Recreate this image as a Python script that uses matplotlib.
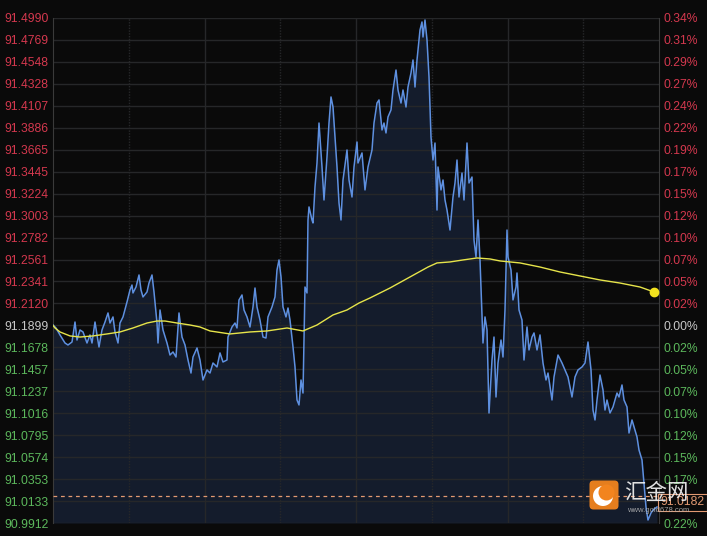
import matplotlib
matplotlib.use("Agg")
import matplotlib.pyplot as plt
from matplotlib.patches import FancyBboxPatch, Circle
import numpy as np

# price ticks (time offset, price)
t = [0, 3, 7, 12, 15, 19, 22, 24, 27, 30, 34, 37, 39, 42, 44, 46, 49, 52, 55, 57,
     60, 62, 65, 67, 70, 74, 77, 79, 80, 83, 86, 88, 90, 94, 96, 99, 101, 104, 105, 107,
     110, 114, 117, 120, 123, 126, 129, 132, 135, 138, 140, 144, 147, 150, 154, 157, 160, 164, 167, 170,
     174, 175, 179, 182, 184, 186, 189, 191, 194, 197, 200, 202, 204, 207, 210, 213, 215, 219, 222, 224,
     226, 228, 230, 233, 235, 237, 240, 242, 244, 246, 248, 250, 252, 254, 255, 256, 259, 260, 262, 264,
     266, 269, 271, 274, 276, 278, 280, 282, 284, 286, 288, 290, 294, 296, 299, 301, 304, 305, 309, 312,
     315, 319, 321, 324, 326, 329, 331, 333, 335, 338, 340, 343, 345, 348, 350, 353, 355, 358, 360, 362,
     364, 367, 369, 370, 372, 374, 376, 378, 380, 382, 384, 385, 388, 390, 392, 394, 397, 400, 402, 404,
     406, 409, 411, 414, 416, 419, 421, 423, 425, 427, 430, 432, 434, 436, 439, 441, 443, 445, 448, 450,
     452, 454, 455, 458, 460, 463, 464, 466, 469, 471, 474, 476, 479, 481, 484, 487, 490, 493, 495, 499,
     501, 505, 509, 512, 515, 519, 522, 525, 529, 532, 535, 538, 540, 542, 544, 547, 550, 552, 554, 557,
     560, 564, 566, 569, 571, 574, 576, 579, 581, 584, 586, 589, 591, 593, 595, 598, 600, 604]
price = [91.1903, 91.1873, 91.1803, 91.1722, 91.1702, 91.1732, 91.1933, 91.1752, 91.1853, 91.1833,
         91.1722, 91.1803, 91.1722, 91.1933, 91.1803, 91.1682, 91.1853, 91.1933, 91.2024, 91.1923,
         91.1984, 91.1833, 91.1722, 91.1923, 91.1984, 91.2134, 91.2255, 91.2305, 91.2225, 91.2285,
         91.2406, 91.2255, 91.2185, 91.2235, 91.2325, 91.2406, 91.2235, 91.1923, 91.1722, 91.2054,
         91.1853, 91.1722, 91.1601, 91.1632, 91.1581, 91.2024, 91.1782, 91.1702, 91.1551, 91.1420,
         91.1581, 91.1672, 91.1551, 91.1350, 91.1451, 91.1420, 91.1521, 91.1481, 91.1622, 91.1531,
         91.1551, 91.1782, 91.1883, 91.1923, 91.1873, 91.2155, 91.2205, 91.2054, 91.1984, 91.1883,
         91.2084, 91.2275, 91.2084, 91.1953, 91.1782, 91.1772, 91.1984, 91.2084, 91.2185, 91.2456,
         91.2557, 91.2386, 91.2084, 91.1984, 91.2074, 91.1953, 91.1682, 91.1481, 91.1149, 91.1099,
         91.1350, 91.1219, 91.2285, 91.2225, 91.2959, 91.3090, 91.2959, 91.2929, 91.3291, 91.3532,
         91.3934, 91.3492, 91.3160, 91.3592, 91.3934, 91.4196, 91.4095, 91.3793, 91.3492, 91.3130,
         91.2959, 91.3361, 91.3663, 91.3361, 91.3190, 91.3492, 91.3743, 91.3532, 91.3633, 91.3261,
         91.3492, 91.3663, 91.3934, 91.4135, 91.4166, 91.3864, 91.3934, 91.3834, 91.3995, 91.4065,
         91.4266, 91.4467, 91.4266, 91.4135, 91.4266, 91.4095, 91.4296, 91.4437, 91.4568, 91.4296,
         91.4568, 91.4869, 91.4950, 91.4799, 91.4970, 91.4769, 91.4397, 91.3793, 91.3562, 91.3733,
         91.3059, 91.3492, 91.3261, 91.3361, 91.3160, 91.3059, 91.2858, 91.3190, 91.3331, 91.3562,
         91.3190, 91.3431, 91.3160, 91.3733, 91.3331, 91.3391, 91.2758, 91.2587, 91.2959, 91.2557,
         91.1722, 91.1984, 91.1853, 91.1018, 91.1551, 91.1782, 91.1179, 91.1521, 91.1752, 91.1581,
         91.2054, 91.2858, 91.2587, 91.2456, 91.2155, 91.2285, 91.2426, 91.2054, 91.1953, 91.1551,
         91.1883, 91.1652, 91.1782, 91.1823, 91.1652, 91.1803, 91.1521, 91.1350, 91.1420, 91.1149,
         91.1380, 91.1601, 91.1521, 91.1451, 91.1380, 91.1179, 91.1380, 91.1451, 91.1481, 91.1521,
         91.1732, 91.1451, 91.1048, 91.0948, 91.1149, 91.1400, 91.1250, 91.1048, 91.1149, 91.1018,
         91.1079, 91.1219, 91.1179, 91.1300, 91.1149, 91.1079, 91.0817, 91.0948, 91.0878, 91.0777,
         91.0646, 91.0546, 91.0314, 91.0073, 90.9942, 91.0013, 91.0043, 91.0073]

# moving average line
ma_t = [0, 2, 7, 17, 27, 40, 54, 67, 80, 94, 104, 112, 124, 137, 147, 157, 177, 197, 214, 234,
        250, 264, 280, 294, 306, 317, 337, 357, 375, 384, 397, 410, 424, 437, 447, 467, 487, 507,
        527, 547, 567, 587, 601]
ma = [91.1899, 91.1873, 91.1833, 91.1793, 91.1782, 91.1793, 91.1813, 91.1833, 91.1873, 91.1923,
      91.1943, 91.1943, 91.1923, 91.1903, 91.1883, 91.1843, 91.1813, 91.1833, 91.1843, 91.1873,
      91.1843, 91.1903, 91.2004, 91.2054, 91.2124, 91.2175, 91.2275, 91.2386, 91.2486, 91.2527,
      91.2537, 91.2557, 91.2577, 91.2567, 91.2547, 91.2527, 91.2486, 91.2436, 91.2396, 91.2356,
      91.2325, 91.2285, 91.2235]

left_ticks = [91.4990, 91.4769, 91.4548, 91.4328, 91.4107, 91.3886, 91.3665, 91.3445,
              91.3224, 91.3003, 91.2782, 91.2561, 91.2341, 91.2120, 91.1899, 91.1678,
              91.1457, 91.1237, 91.1016, 91.0795, 91.0574, 91.0353, 91.0133, 90.9912]
right_labels = ["0.34%", "0.31%", "0.29%", "0.27%", "0.24%", "0.22%", "0.19%", "0.17%",
                "0.15%", "0.12%", "0.10%", "0.07%", "0.05%", "0.02%", "0.00%", "0.02%",
                "0.05%", "0.07%", "0.10%", "0.12%", "0.15%", "0.17%", "", "0.22%"]
base_price = 91.1899
last_price = 91.0182

BG = "#0a0a0a"
RED = "#d4384e"
GREEN = "#5cb85c"
NEUTRAL = "#c8c8c8"
GRID = "#262729"

plt.rcParams["font.family"] = ["Liberation Sans", "DejaVu Sans"]

fig = plt.figure(figsize=(7.07, 5.36), dpi=100, facecolor=BG)
ax = fig.add_axes([53 / 707, 13 / 536, 606 / 707, 505 / 536])
ax.set_facecolor(BG)
ymin, ymax = left_ticks[-1], left_ticks[0]
ax.set_xlim(0, 606)
ax.set_ylim(ymin, ymax)

# grid
for v in left_ticks:
    ax.axhline(v, color=GRID, lw=1, zorder=2)
for k, gx in enumerate(np.linspace(0, 606, 9)[1:-1]):
    ax.axvline(gx, color=GRID, lw=1, ls="-" if k % 2 else (0, (1, 1)), zorder=2)

ax.fill_between(t, price, ymin, color="#141c2c", lw=0, zorder=1)
ax.plot(t, price, color="#5e90e0", lw=1.1, zorder=3)
ax.plot(ma_t, ma, color="#e6e44a", lw=1.0, zorder=4)
ax.plot(ma_t[-1], ma[-1], "o", color="#f2e21e", ms=6, zorder=5)

ax.axhline(last_price, color="#e39a72", lw=0.9, ls=(0, (3, 3)), zorder=4)

for s in ["top", "bottom"]:
    ax.spines[s].set_visible(False)
for s in ["left", "right"]:
    ax.spines[s].set_color("#3a3a3a")

ax.set_xticks([])
ax.set_yticks(left_ticks)
ax.set_yticklabels([f"{v:.4f}" for v in left_ticks])
ax.tick_params(axis="y", length=0, pad=3, labelsize=8.7)
for v, lab in zip(left_ticks, ax.get_yticklabels()):
    lab.set_color(RED if v > base_price else GREEN if v < base_price else NEUTRAL)

ax2 = ax.twinx()
ax2.set_ylim(ymin, ymax)
ax2.set_yticks(left_ticks)
ax2.set_yticklabels(right_labels)
ax2.tick_params(axis="y", length=0, pad=3, labelsize=8.7)
for s in ax2.spines.values():
    s.set_visible(False)
for v, lab in zip(left_ticks, ax2.get_yticklabels()):
    lab.set_color(RED if v > base_price else GREEN if v < base_price else NEUTRAL)

# last price tag
ax.text(1.003, last_price, f"{last_price:.4f}", transform=ax.get_yaxis_transform(),
        color="#e39a72", fontsize=8.7, va="top", ha="left", clip_on=False, zorder=6,
        bbox=dict(boxstyle="square,pad=0.2", fc=BG, ec="#e39a72", lw=0.8))

# watermark
logo = fig.add_axes([588 / 707, 25 / 536, 32 / 707, 32 / 536])
logo.set_xlim(0, 32)
logo.set_ylim(0, 32)
logo.axis("off")
logo.add_patch(FancyBboxPatch((1.5, 1.5), 29, 29, boxstyle="round,pad=0,rounding_size=4",
                              fc="#f2841e", ec="none", alpha=0.95))
logo.add_patch(Circle((15, 15), 10, fc="white", ec="none"))
logo.add_patch(Circle((18.5, 18.5), 8, fc="#f2841e", ec="none"))
fig.text(624 / 707, (536 - 493) / 536, "汇金网", family=["Noto Sans CJK SC", "DejaVu Sans"],
         fontsize=15.5, color="#f2f2f2", alpha=0.92, va="center", ha="left")
fig.text(627 / 707, (536 - 510) / 536, "www.gold678.com", fontsize=5.5, color="#b8b8b8",
         alpha=0.85, va="center", ha="left")

fig.savefig("out.png", dpi=100, facecolor=BG)
